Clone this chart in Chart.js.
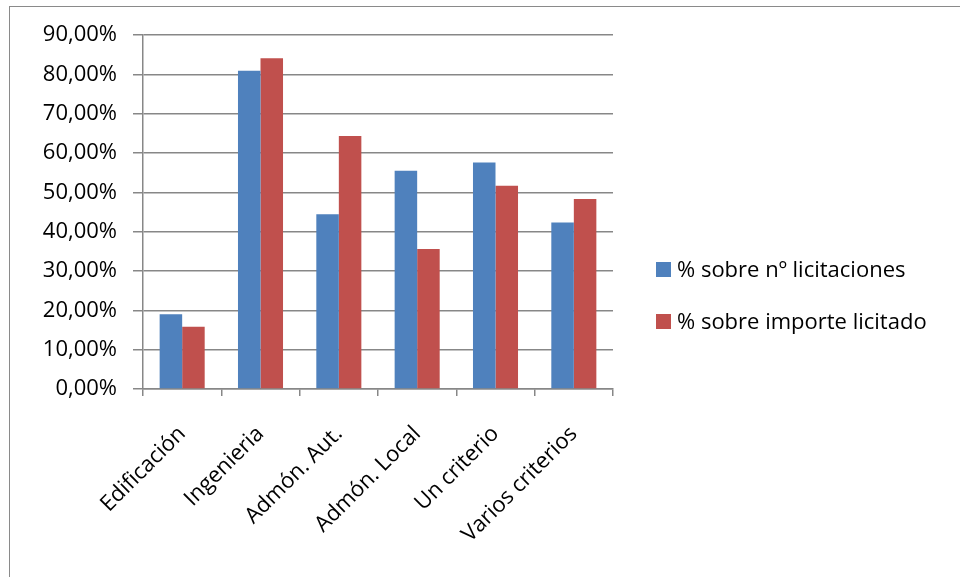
<!DOCTYPE html>
<html>
<head>
<meta charset="utf-8">
<script src="https://cdn.jsdelivr.net/npm/chart.js@4"></script>
<style>
  body { margin: 0; background: #fff; overflow: hidden; }
  #wrap { position: relative; width: 960px; height: 577px; overflow: hidden; }
  #frame { position: absolute; left: 9px; top: 6px; width: 1000px; height: 700px;
           border-left: 1.5px solid #8a8a8a; border-top: 1.5px solid #8a8a8a; }
  canvas { position: absolute; left: 0; top: 0; }
</style>
</head>
<body>
<div id="wrap">
  <div id="frame"></div>
  <canvas id="chart" width="960" height="577"></canvas>
</div>
<script>
const categories = ['Edificación', 'Ingenieria', 'Admón. Aut.', 'Admón. Local', 'Un criterio', 'Varios criterios'];
const pctLicitaciones = [19.0, 80.9, 44.4, 55.5, 57.6, 42.3];
const pctImporte = [15.8, 84.1, 64.3, 35.6, 51.7, 48.3];
const seriesNames = ['% sobre nº licitaciones', '% sobre importe licitado'];
const yMax = 90;
const yStep = 10;

const gridColor = '#878787';
const fontFamily = '"Open Sans"';
const fontSize = 22;
Chart.defaults.font.family = fontFamily;
Chart.defaults.font.size = fontSize;
Chart.defaults.color = '#000';

// leyenda a la derecha, dibujada a mano
const sideLegend = {
  id: 'sideLegend',
  afterDraw(chart) {
    const ctx = chart.ctx;
    ctx.save();
    ctx.font = fontSize + 'px ' + fontFamily;
    ctx.textBaseline = 'middle';
    chart.data.datasets.forEach((ds, i) => {
      const y = 269.5 + i * 52;
      ctx.fillStyle = ds.backgroundColor;
      ctx.fillRect(656, y - 7.5, 15, 15);
      ctx.fillStyle = '#000';
      ctx.fillText(ds.label, 677, y + 1);
    });
    ctx.restore();
  }
};

new Chart(document.getElementById('chart').getContext('2d'), {
  type: 'bar',
  data: {
    labels: categories,
    datasets: [
      { label: seriesNames[0], data: pctLicitaciones, backgroundColor: '#4F81BD', borderWidth: 0 },
      { label: seriesNames[1], data: pctImporte, backgroundColor: '#C0504D', borderWidth: 0 }
    ]
  },
  options: {
    responsive: false,
    animation: false,
    layout: { padding: { left: 0, top: 35, right: 347, bottom: 0 } },
    datasets: { bar: { categoryPercentage: 0.575, barPercentage: 1 } },
    plugins: {
      legend: { display: false },
      tooltip: { enabled: false }
    },
    scales: {
      x: {
        afterFit: (scale) => { scale.height = 188; },
        grid: { offset: true, drawOnChartArea: false, drawTicks: true, tickLength: 7, color: gridColor, lineWidth: 1.5 },
        border: { color: gridColor, width: 1.5 },
        ticks: { minRotation: 45, maxRotation: 45, padding: 25, autoSkip: false }
      },
      y: {
        min: 0,
        max: yMax,
        afterFit: (scale) => { scale.width = 143; },
        grid: { color: gridColor, lineWidth: 1.5, tickLength: 10 },
        border: { color: gridColor, width: 1.5 },
        ticks: {
          stepSize: yStep,
          padding: 16,
          callback: (v) => v.toFixed(2).replace('.', ',') + '%'
        }
      }
    }
  },
  plugins: [sideLegend]
});
</script>
</body>
</html>
